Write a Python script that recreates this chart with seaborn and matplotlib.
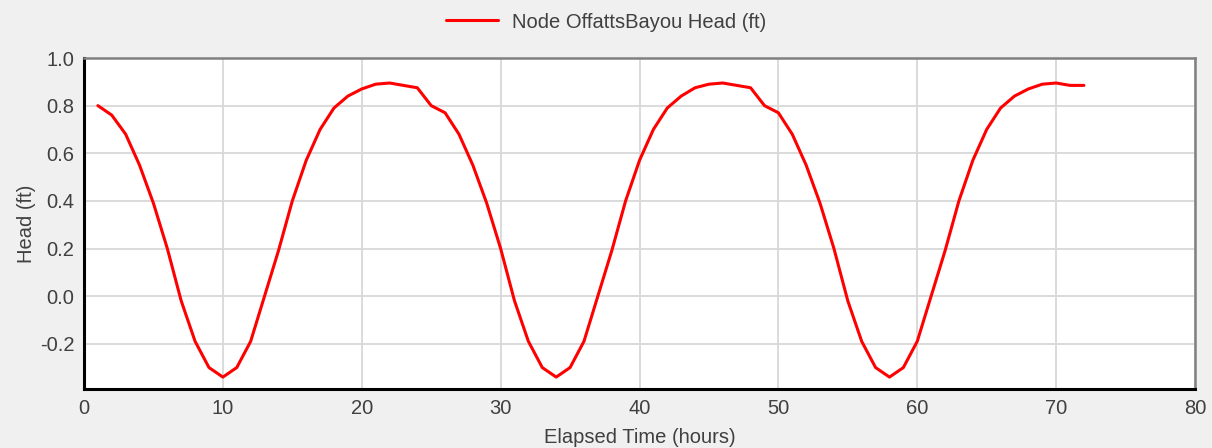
import numpy as np
import pandas as pd
import matplotlib
matplotlib.use("Agg")
import matplotlib.pyplot as plt
import seaborn as sns

# Data (hourly values)
hours = list(range(1, 73))
head_ft = [
    0.80, 0.76, 0.68, 0.55, 0.39, 0.20, -0.02, -0.19, -0.30, -0.34, -0.30, -0.19,
    0.00, 0.19, 0.40, 0.57, 0.70, 0.79, 0.84, 0.87, 0.89, 0.895, 0.885, 0.875,
    0.80, 0.77, 0.68, 0.55, 0.39, 0.20, -0.02, -0.19, -0.30, -0.34, -0.30, -0.19,
    0.00, 0.19, 0.40, 0.57, 0.70, 0.79, 0.84, 0.875, 0.89, 0.895, 0.885, 0.875,
    0.80, 0.77, 0.68, 0.55, 0.39, 0.20, -0.02, -0.19, -0.30, -0.34, -0.30, -0.19,
    0.00, 0.19, 0.40, 0.57, 0.70, 0.79, 0.84, 0.87, 0.89, 0.895, 0.885, 0.885,
]
series_name = "Node OffattsBayou Head (ft)"
x_ticks = [0, 10, 20, 30, 40, 50, 60, 70, 80]
y_ticks = [-0.2, 0.0, 0.2, 0.4, 0.6, 0.8, 1.0]

df = pd.DataFrame({"hours": hours, "head": head_ft, "series": series_name})

sns.set_style("whitegrid")
plt.rcParams["font.family"] = ["Liberation Sans", "DejaVu Sans"]

fs = 14.5
fig = plt.figure(figsize=(12.12, 4.48), dpi=100, facecolor="#f0f0f0")
ax = fig.add_axes([84 / 1212, 1 - 389 / 448, (1195 - 84) / 1212, (389 - 58) / 448])
ax.set_facecolor("white")

sns.lineplot(data=df, x="hours", y="head", hue="series", palette=["#ff0000"],
             linewidth=2.2, ax=ax)

ax.set_xlim(0, 80)
ax.set_ylim(-0.39, 1.0)
ax.set_xticks(x_ticks)
ax.set_yticks(y_ticks)
ax.set_yticklabels([f"{v:.1f}" for v in y_ticks])
ax.grid(True, color="#d8d8d8", linewidth=1.3)

for side in ["left", "bottom"]:
    ax.spines[side].set_color("black")
    ax.spines[side].set_linewidth(2.2)
for side in ["top", "right"]:
    ax.spines[side].set_color("#808080")
    ax.spines[side].set_linewidth(1.8)

ax.tick_params(axis="both", colors="#404040", labelsize=fs, length=4,
               width=1, direction="out", pad=3)
ax.tick_params(axis="both", color="#a0a0a0")
ax.set_xlabel("Elapsed Time (hours)", fontsize=fs, color="#404040", labelpad=7.5)
ax.set_ylabel("Head (ft)", fontsize=fs, color="#404040", labelpad=3)

ax.legend(loc="center", bbox_to_anchor=(0.5, 1 - 22 / 448),
          bbox_transform=fig.transFigure, frameon=False,
          fontsize=fs, handlelength=2.6, handletextpad=0.7,
          labelcolor="#404040")

fig.savefig("out.png", dpi=100, facecolor=fig.get_facecolor())
